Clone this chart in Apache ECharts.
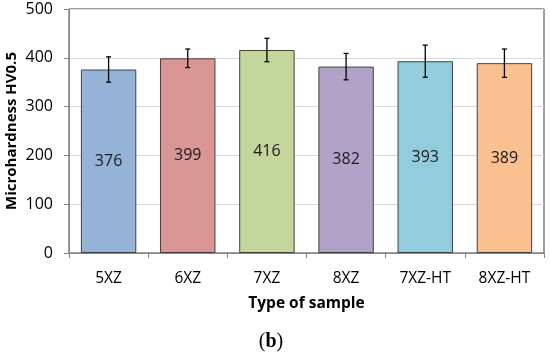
<!DOCTYPE html>
<html><head><meta charset="utf-8">
<script src="https://cdn.jsdelivr.net/npm/echarts@6/dist/echarts.min.js"></script>
<style>html,body{margin:0;padding:0;background:#fff}#c{width:550px;height:356px}</style>
</head><body><div id="c"></div>
<script>
var categories = ['5XZ', '6XZ', '7XZ', '8XZ', '7XZ-HT', '8XZ-HT'];
var values = [376, 399, 416, 382, 393, 389];
var errors = [26, 19, 24, 27, 33, 29];
var colors = ['#95B3D7', '#D99694', '#C3D69B', '#B3A2C7', '#93CDDD', '#FAC090'];
var yTicks = [0, 100, 200, 300, 400, 500];

var FONT = '"Open Sans", "Liberation Sans", sans-serif';
var chart = echarts.init(document.getElementById('c'), null, {renderer: 'canvas'});

var barData = values.map(function (v, i) {
  return {value: v, itemStyle: {color: colors[i]}};
});
var errData = values.map(function (v, i) { return [i, v - errors[i], v + errors[i]]; });

chart.setOption({
  animation: false,
  backgroundColor: '#fff',
  grid: {left: 69, right: 6, top: 9, bottom: 103, containLabel: false, outerBoundsMode: 'none',
    show: true, borderColor: '#404040', borderWidth: 1, backgroundColor: 'transparent'},
  xAxis: {
    type: 'category',
    data: categories,
    name: 'Type of sample',
    nameLocation: 'middle',
    nameGap: 43,
    nameMoveOverlap: false,
    nameTextStyle: {fontFamily: FONT, fontSize: 15.5, fontWeight: 'bold', color: '#000'},
    axisLine: {lineStyle: {color: '#868686', width: 1}},
    axisTick: {show: true, length: 5, lineStyle: {color: '#868686'}},
    axisLabel: {fontFamily: FONT, fontSize: 15.5, color: '#000', margin: 18}
  },
  yAxis: {
    type: 'value',
    min: 0, max: 500, interval: 100,
    name: 'Microhardness HV0.5',
    nameLocation: 'middle',
    nameGap: 50,
    nameMoveOverlap: false,
    nameTextStyle: {fontFamily: FONT, fontSize: 15, fontWeight: 'bold', color: '#000'},
    axisLine: {show: true, lineStyle: {color: '#868686', width: 1}},
    axisTick: {show: true, length: 5, lineStyle: {color: '#868686'}},
    axisLabel: {fontFamily: FONT, fontSize: 16, color: '#000', margin: 16,
      formatter: function (v) { return yTicks.indexOf(v) >= 0 ? String(v) : ''; }},
    splitLine: {lineStyle: {color: '#D9D9D9', width: 1}}
  },
  series: [{
    type: 'bar',
    data: barData,
    barWidth: '70%',
    itemStyle: {borderColor: '#404040', borderWidth: 1},
    label: {show: true, position: 'inside', fontFamily: FONT, fontSize: 16, color: '#1a1a1a'}
  }, {
    type: 'custom',
    data: errData,
    z: 10,
    renderItem: function (params, api) {
      var x = api.value(0);
      var lo = api.coord([x, api.value(1)]);
      var hi = api.coord([x, api.value(2)]);
      var cw = 2.5;
      var st = {stroke: '#000', lineWidth: 1.3};
      return {type: 'group', children: [
        {type: 'line', shape: {x1: lo[0], y1: lo[1], x2: hi[0], y2: hi[1]}, style: st},
        {type: 'line', shape: {x1: lo[0] - cw, y1: lo[1], x2: lo[0] + cw, y2: lo[1]}, style: st},
        {type: 'line', shape: {x1: hi[0] - cw, y1: hi[1], x2: hi[0] + cw, y2: hi[1]}, style: st}
      ]};
    }
  }],
  graphic: [{
    type: 'text', x: 271, y: 342,
    style: {
      text: '{n|(}{b|b}{n|)}',
      align: 'center', verticalAlign: 'middle',
      rich: {
        n: {fontFamily: '"Liberation Serif", "DejaVu Serif", serif', fontSize: 20, fill: '#000'},
        b: {fontFamily: '"Liberation Serif", "DejaVu Serif", serif', fontSize: 20, fontWeight: 'bold', fill: '#000'}
      }
    }
  }]
});
</script></body></html>
